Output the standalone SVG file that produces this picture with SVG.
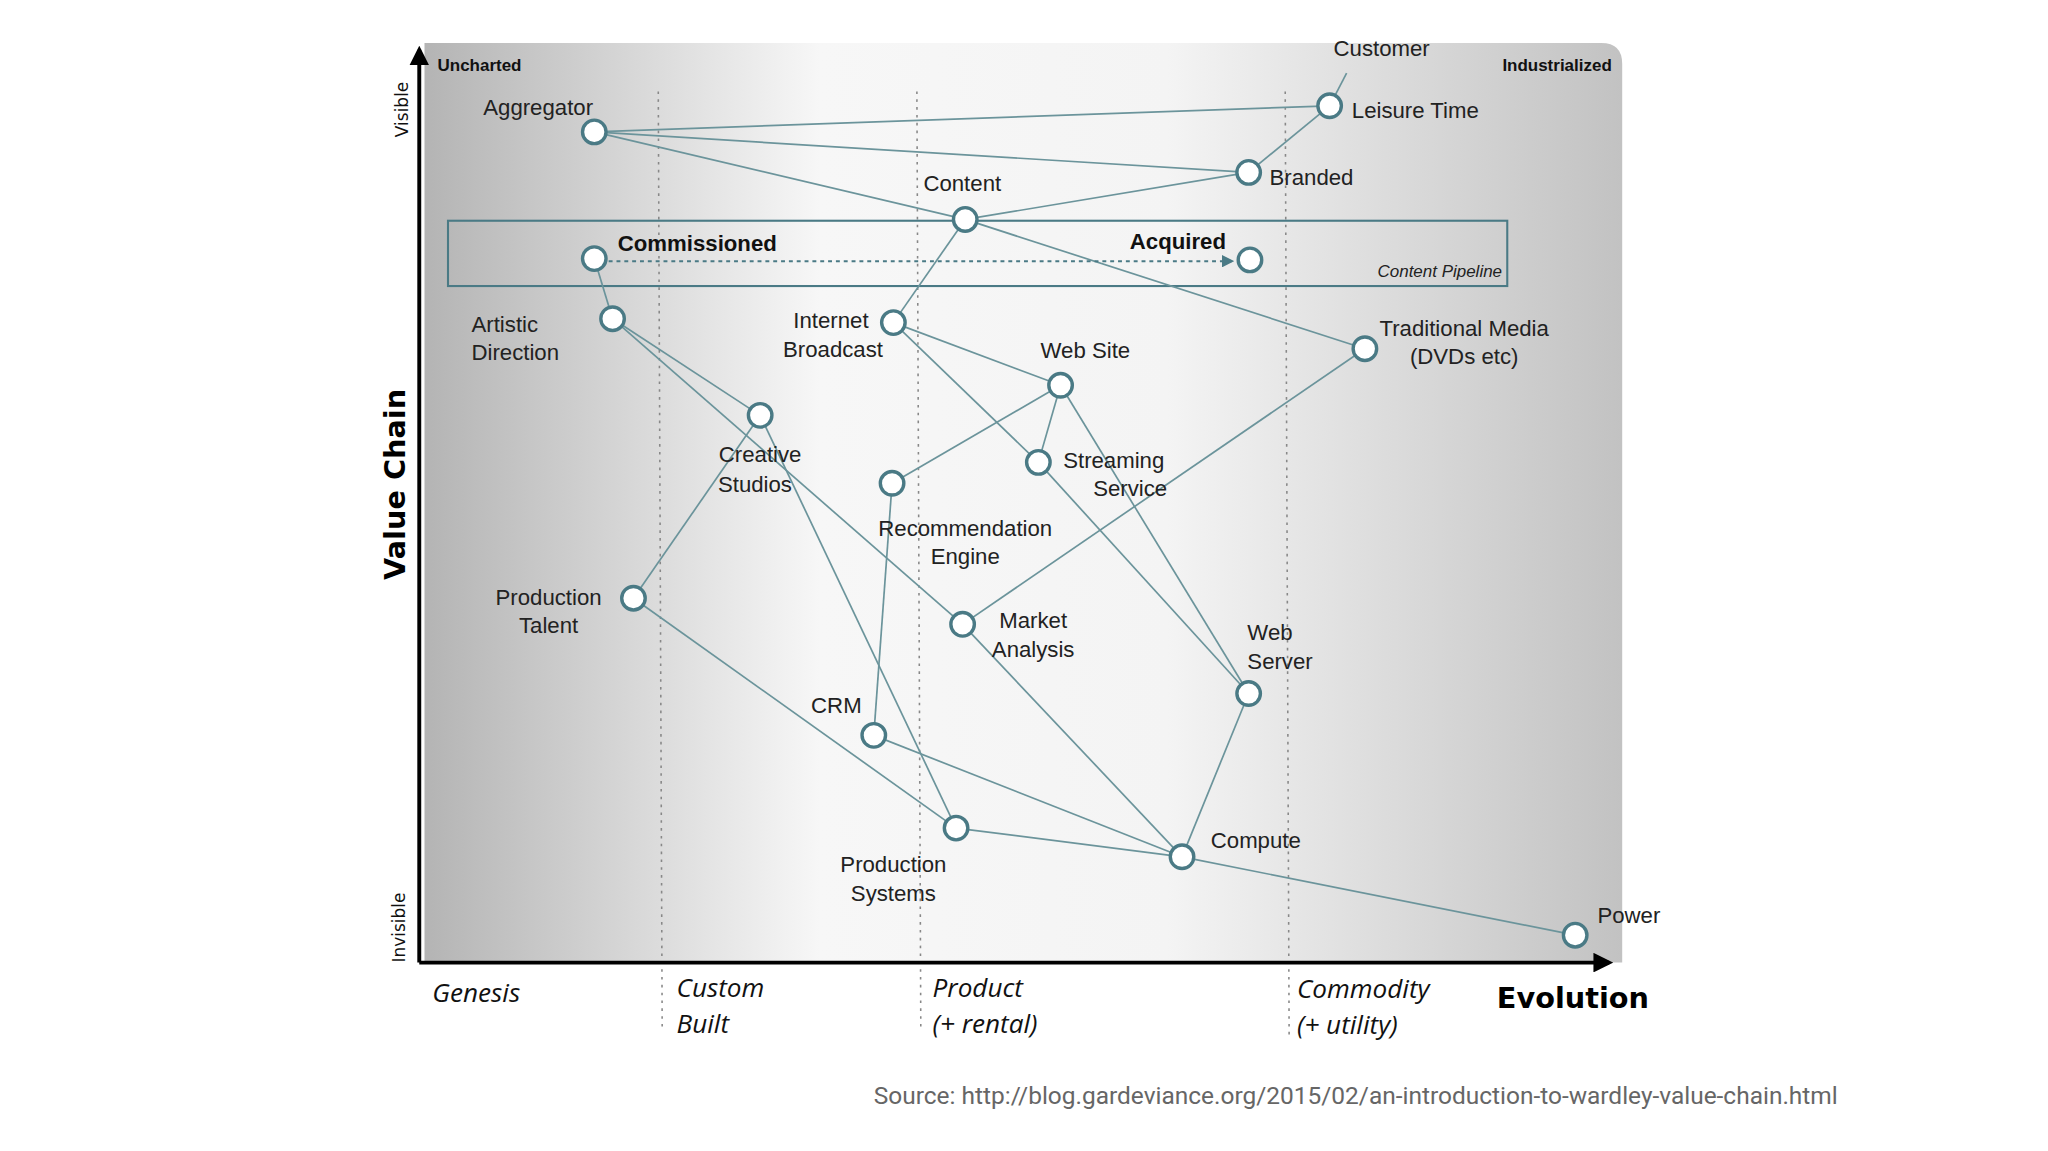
<svg xmlns="http://www.w3.org/2000/svg" width="2048" height="1151" viewBox="0 0 2048 1151">
<defs>
<linearGradient id="bg" x1="0" y1="0" x2="1" y2="0">
<stop offset="0" stop-color="#b4b4b4"/>
<stop offset="0.33" stop-color="#f7f7f7"/>
<stop offset="0.62" stop-color="#f4f4f4"/>
<stop offset="1" stop-color="#c2c2c2"/>
</linearGradient>
<marker id="ah" viewBox="0 0 10 10" refX="9" refY="5" markerWidth="6" markerHeight="6" orient="auto"><path d="M0,0 L10,5 L0,10 z" fill="#4a7a85"/></marker>
<marker id="bh" viewBox="0 0 10 10" refX="8" refY="5" markerWidth="5" markerHeight="5" orient="auto"><path d="M0,0 L10,5 L0,10 z" fill="#000"/></marker>
<style>
.n{fill:#fff;stroke:#4a7a85;stroke-width:2.6}
.e{stroke:#6b949b;stroke-width:1.3;fill:none}
.t{font-family:"Liberation Sans",Arial,sans-serif;font-size:17px;fill:#222}
.b{font-family:"Liberation Sans",Arial,sans-serif;font-size:17px;font-weight:bold;fill:#111}
.s{font-family:"Liberation Sans",Arial,sans-serif;font-size:13px;font-weight:bold;fill:#111}
.a{font-family:"Open Sans","Liberation Sans",sans-serif;font-size:20px;font-style:italic;fill:#111}
.d{stroke:#888;stroke-width:1.2;stroke-dasharray:2 4}
</style>
</defs>
<rect width="2048" height="1151" fill="#fff"/>
<g transform="scale(1.30612)">
<path d="M325,33 H1226 Q1242,33 1242,49 V737 H325 Z" fill="url(#bg)"/>
<line class="d" x1="504" y1="70" x2="507" y2="790"/>
<line class="d" x1="702" y1="70" x2="705" y2="790"/>
<line class="d" x1="984" y1="70" x2="987" y2="795"/>
<rect x="343" y="169" width="811" height="50" fill="none" stroke="#4a7a85" stroke-width="1.6"/>
<g id="connectors">
<line class="e" x1="1031" y1="56" x2="1018" y2="81"/>
<line class="e" x1="455" y1="101" x2="1018" y2="81"/>
<line class="e" x1="956" y1="132" x2="1018" y2="81"/>
<line class="e" x1="455" y1="101" x2="956" y2="132"/>
<line class="e" x1="455" y1="101" x2="739" y2="168"/>
<line class="e" x1="739" y1="168" x2="956" y2="132"/>
<line class="e" x1="739" y1="168" x2="684" y2="247"/>
<line class="e" x1="739" y1="168" x2="1045" y2="267"/>
<line class="e" x1="455" y1="198" x2="469" y2="244"/>
<line x1="466" y1="200" x2="944" y2="200" stroke="#4a7a85" stroke-width="1.6" stroke-dasharray="3 3" marker-end="url(#ah)"/>
<line class="e" x1="469" y1="244" x2="582" y2="318"/>
<line class="e" x1="469" y1="244" x2="737" y2="478"/>
<line class="e" x1="582" y1="318" x2="485" y2="458"/>
<line class="e" x1="582" y1="318" x2="732" y2="634"/>
<line class="e" x1="684" y1="247" x2="812" y2="295"/>
<line class="e" x1="684" y1="247" x2="795" y2="354"/>
<line class="e" x1="812" y1="295" x2="683" y2="370"/>
<line class="e" x1="812" y1="295" x2="795" y2="354"/>
<line class="e" x1="812" y1="295" x2="956" y2="531"/>
<line class="e" x1="795" y1="354" x2="956" y2="531"/>
<line class="e" x1="683" y1="370" x2="669" y2="563"/>
<line class="e" x1="1045" y1="267" x2="737" y2="478"/>
<line class="e" x1="737" y1="478" x2="905" y2="656"/>
<line class="e" x1="485" y1="458" x2="732" y2="634"/>
<line class="e" x1="669" y1="563" x2="905" y2="656"/>
<line class="e" x1="732" y1="634" x2="905" y2="656"/>
<line class="e" x1="956" y1="531" x2="905" y2="656"/>
<line class="e" x1="905" y1="656" x2="1206" y2="716"/>
</g>
<g id="customer"><text class="t" x="1021" y="43">Customer</text></g>
<g id="aggregator"><circle class="n" cx="455" cy="101" r="9"/><text class="t" x="370" y="88">Aggregator</text></g>
<g id="leisure"><circle class="n" cx="1018" cy="81" r="9"/><text class="t" x="1035" y="90">Leisure Time</text></g>
<g id="branded"><circle class="n" cx="956" cy="132" r="9"/><text class="t" x="972" y="142">Branded</text></g>
<g id="content"><circle class="n" cx="739" cy="168" r="9"/><text class="t" x="707" y="146">Content</text></g>
<g id="commissioned"><circle class="n" cx="455" cy="198" r="9"/><text class="b" x="473" y="192">Commissioned</text></g>
<g id="acquired"><circle class="n" cx="957" cy="199" r="9"/><text class="b" x="865" y="191">Acquired</text></g>
<text x="1150" y="212" text-anchor="end" font-family="Liberation Sans,Arial,sans-serif" font-size="13" font-style="italic" fill="#222">Content Pipeline</text>
<g id="artistic"><circle class="n" cx="469" cy="244" r="9"/><text class="t" x="361" y="254">Artistic</text><text class="t" x="361" y="276">Direction</text></g>
<g id="internet"><circle class="n" cx="684" cy="247" r="9"/><text class="t" x="665" y="251" text-anchor="end">Internet</text><text class="t" x="676" y="273" text-anchor="end">Broadcast</text></g>
<g id="traditional"><circle class="n" cx="1045" cy="267" r="9"/><text class="t" x="1121" y="257" text-anchor="middle">Traditional Media</text><text class="t" x="1121" y="279" text-anchor="middle">(DVDs etc)</text></g>
<g id="website"><circle class="n" cx="812" cy="295" r="9"/><text class="t" x="831" y="274" text-anchor="middle">Web Site</text></g>
<g id="creative"><circle class="n" cx="582" cy="318" r="9"/><text class="t" x="582" y="354" text-anchor="middle">Creative</text><text class="t" x="578" y="377" text-anchor="middle">Studios</text></g>
<g id="streaming"><circle class="n" cx="795" cy="354" r="9"/><text class="t" x="814" y="358">Streaming</text><text class="t" x="837" y="380">Service</text></g>
<g id="recommendation"><circle class="n" cx="683" cy="370" r="9"/><text class="t" x="739" y="410" text-anchor="middle">Recommendation</text><text class="t" x="739" y="432" text-anchor="middle">Engine</text></g>
<g id="talent"><circle class="n" cx="485" cy="458" r="9"/><text class="t" x="420" y="463" text-anchor="middle">Production</text><text class="t" x="420" y="485" text-anchor="middle">Talent</text></g>
<g id="market"><circle class="n" cx="737" cy="478" r="9"/><text class="t" x="791" y="481" text-anchor="middle">Market</text><text class="t" x="791" y="503" text-anchor="middle">Analysis</text></g>
<g id="webserver"><circle class="n" cx="956" cy="531" r="9"/><text class="t" x="955" y="490">Web</text><text class="t" x="955" y="512">Server</text></g>
<g id="crm"><circle class="n" cx="669" cy="563" r="9"/><text class="t" x="621" y="546">CRM</text></g>
<g id="prodsys"><circle class="n" cx="732" cy="634" r="9"/><text class="t" x="684" y="668" text-anchor="middle">Production</text><text class="t" x="684" y="690" text-anchor="middle">Systems</text></g>
<g id="compute"><circle class="n" cx="905" cy="656" r="9"/><text class="t" x="927" y="649">Compute</text></g>
<g id="power"><circle class="n" cx="1206" cy="716" r="9"/><text class="t" x="1223" y="707">Power</text></g>
<line x1="321" y1="737" x2="321" y2="38" stroke="#000" stroke-width="3" marker-end="url(#bh)"/>
<line x1="321" y1="737" x2="1232" y2="737" stroke="#000" stroke-width="3" marker-end="url(#bh)"/>
<text class="s" x="335" y="54">Uncharted</text>
<text class="s" x="1234" y="54" text-anchor="end">Industrialized</text>
<text transform="translate(312,105) rotate(-90)" font-family="DejaVu Sans,sans-serif" font-size="13" fill="#111">Visible</text>
<text transform="translate(310,737) rotate(-90)" font-family="DejaVu Sans,sans-serif" font-size="13" fill="#111">Invisible</text>
<text transform="translate(310,444) rotate(-90)" font-family="DejaVu Sans,sans-serif" font-size="22" font-weight="bold" fill="#000">Value Chain</text>
<text class="a" x="331" y="767">Genesis</text>
<text class="a" x="518" y="763">Custom</text><text class="a" x="518" y="791">Built</text>
<text class="a" x="714" y="763">Product</text><text class="a" x="714" y="791">(+ rental)</text>
<text class="a" x="993" y="764">Commodity</text><text class="a" x="993" y="792">(+ utility)</text>
<text x="1146" y="772" font-family="DejaVu Sans,sans-serif" font-size="22" font-weight="bold" fill="#000">Evolution</text>
<text x="1407" y="845" text-anchor="end" textLength="738" lengthAdjust="spacingAndGlyphs" font-family="Roboto,Liberation Sans,sans-serif" font-size="19" fill="#666">Source: http://blog.gardeviance.org/2015/02/an-introduction-to-wardley-value-chain.html</text>
</g>
</svg>
